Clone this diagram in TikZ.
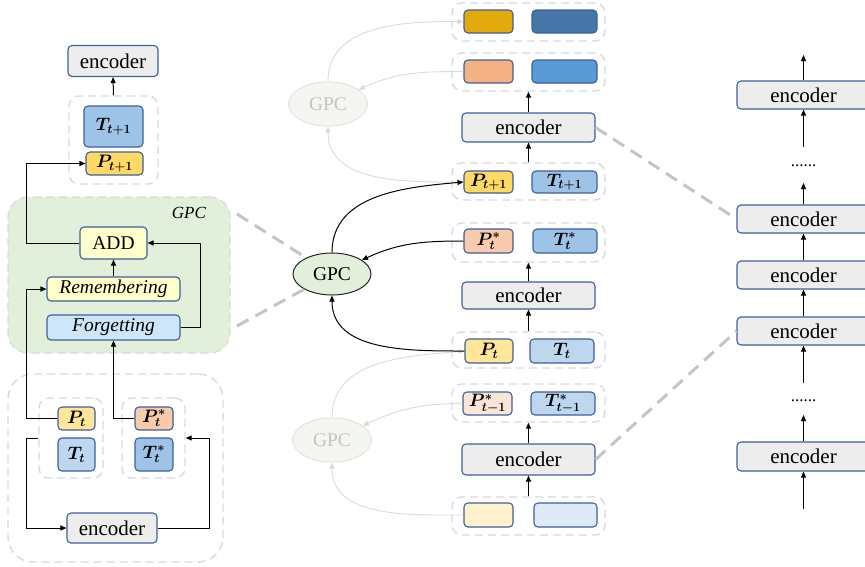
\documentclass[tikz,border=0pt]{standalone}
\usepackage{fix-cm}
\usepackage{bm}
\usepackage{fontspec}
\setmainfont{Liberation Serif}
\usetikzlibrary{arrows.meta,shapes.geometric,calc}
\definecolor{bc}{HTML}{3E5F9A}
\definecolor{encf}{HTML}{EDEDED}
\definecolor{gc}{HTML}{D3D9E5}
\definecolor{greenf}{HTML}{E2EFDA}
\definecolor{greend}{HTML}{D5DCCF}
\definecolor{fadec}{HTML}{DADADA}
\definecolor{fadet}{HTML}{C4C4C4}
\definecolor{fadeg}{HTML}{F4F6F1}
\definecolor{fadegd}{HTML}{E1E4DD}
\definecolor{dgray}{HTML}{C4C4C4}
\definecolor{yelA}{HTML}{FFD966}
\definecolor{yelB}{HTML}{FFE699}
\definecolor{yelC}{HTML}{FFF2CC}
\definecolor{addf}{HTML}{FFFFCC}
\definecolor{forgf}{HTML}{CFE6F9}
\definecolor{blA}{HTML}{9DC3E6}
\definecolor{blB}{HTML}{BDD7EE}
\definecolor{blC}{HTML}{DEEBF7}
\definecolor{blD}{HTML}{5B9BD5}
\definecolor{blE}{HTML}{4676A8}
\definecolor{orA}{HTML}{F8CBAD}
\definecolor{orB}{HTML}{FBE5D6}
\definecolor{orC}{HTML}{F4B183}
\definecolor{goldA}{HTML}{E3AA0B}
\newcommand{\fsE}{\fontsize{21}{25}\selectfont}
\newcommand{\fsT}{\fontsize{19.5}{23}\selectfont}
\newcommand{\fsM}{\fontsize{18}{22}\selectfont}
\newcommand{\fsD}{\fontsize{17}{20}\selectfont}
\tikzset{
  bx/.style={draw=bc, line width=1.1pt, rounded corners=4pt, inner sep=0pt, align=center},
  enc/.style={bx, fill=encf, font=\fsE, minimum width=133pt, minimum height=29pt},
  encs/.style={bx, fill=encf, font=\fsE, minimum width=90pt, minimum height=31pt},
  lab/.style={bx, font=\fsM},
  grp/.style={draw=gc, line width=1.4pt, dash pattern=on 8pt off 5pt, rounded corners=10pt, inner sep=0pt},
  arr/.style={-{Triangle[length=6pt,width=5pt]}, line width=1pt, draw=black},
  farr/.style={-{Triangle[length=6pt,width=5pt]}, line width=0.9pt, draw=fadec},
  gpcn/.style={ellipse, draw=black!85, line width=1pt, fill=greenf, minimum width=78pt, minimum height=42pt, inner sep=0pt, font=\fsT},
  gpcf/.style={ellipse, draw=fadegd, line width=1pt, fill=fadeg, text=fadet, minimum width=79pt, minimum height=44pt, inner sep=0pt, font=\fsT},
  gdash/.style={draw=dgray, line width=3pt, dash pattern=on 13pt off 8pt}
}
\begin{document}
\begin{tikzpicture}[x=1pt,y=-1pt]
\useasboundingbox (0,0) rectangle (865,566);
\clip (0,0) rectangle (865,566);

% ---------------- left panel ----------------
\node[draw=greend, fill=greenf, line width=1.2pt, dash pattern=on 8pt off 5pt, rounded corners=20pt, minimum width=222pt, minimum height=156pt, inner sep=0pt] (gpcreg) at (119,275) {};
\node[font=\fsD] (gpclab) at (189,213) {\textit{GPC}};
\node[grp] (grpL1) at (113.5,140) [minimum width=89pt, minimum height=88pt] {};
\node[grp, rounded corners=25pt, minimum width=215pt, minimum height=188pt] (grpBig) at (115.5,468) {};
\node[grp, minimum width=64pt, minimum height=80pt] (grp2a) at (71,438) {};
\node[grp, minimum width=63pt, minimum height=80pt] (grp2b) at (153.5,438) {};

\node[encs] (encL1) at (113,61) {encoder};
\node[lab, fill=blA, minimum width=59pt, minimum height=41pt] (TL1) at (113.5,126.5) {$\bm{T_{t+1}}$};
\node[lab, fill=yelA, minimum width=57pt, minimum height=23pt] (PL1) at (114.5,163.5) {$\bm{P_{t+1}}$};
\node[bx, fill=addf, font=\fsT, minimum width=67pt, minimum height=32pt] (ADD) at (113.5,243) {ADD};
\node[bx, fill=addf, font=\fsT, minimum width=133pt, minimum height=24pt] (Rem) at (113.5,289) {\textit{Remembering}};
\node[bx, fill=forgf, font=\fsT, minimum width=133pt, minimum height=25pt] (Forg) at (113.5,327.5) {\textit{Forgetting}};
\node[lab, fill=yelB, minimum width=37pt, minimum height=23pt] (PtL) at (76.5,418.5) {$\bm{P_{t}}$};
\node[lab, fill=blB, minimum width=37pt, minimum height=33pt] (TtL) at (76.5,454.5) {$\bm{T_{t}}$};
\node[lab, fill=orA, minimum width=38pt, minimum height=23pt] (PsL) at (154,418.5) {$\bm{P^{*}_{t}}$};
\node[lab, fill=blA, minimum width=38pt, minimum height=33pt] (TsL) at (154,454.5) {$\bm{T^{*}_{t}}$};
\node[encs, minimum height=30pt] (encL2) at (112,528) {encoder};

\draw[arr] (grpL1.north) -- (encL1.south);
\draw[arr] (ADD.west) -- ++(-53,0) |- (PL1.west);
\draw[arr] (Rem.north) -- (ADD.south);
\draw[arr] (Forg.east) -- ++(20,0) |- (ADD.east);
\draw[arr] (PtL.west) -- ++(-31,0) |- (Rem.west);
\draw[arr] (PsL.west) -| (Forg.south);
\draw[arr] (grp2a.west) -- ++(-12,0) |- (encL2.west);
\draw[arr] (encL2.east) -- ++(52,0) |- (grp2b.east);

% ---------------- middle column ----------------
\node[grp, minimum width=153pt, minimum height=38pt] (grpA) at (528.5,22) {};
\node[grp, minimum width=153pt, minimum height=38pt] (grpB) at (528.5,72) {};
\node[grp, minimum width=153pt, minimum height=37pt] (grpC) at (528.5,181.5) {};
\node[grp, minimum width=153pt, minimum height=39pt] (grpD) at (528.5,242.5) {};
\node[grp, minimum width=153pt, minimum height=36pt] (grpE) at (528.5,350) {};
\node[grp, minimum width=153pt, minimum height=38pt] (grpF) at (528.5,403) {};
\node[grp, minimum width=153pt, minimum height=38pt] (grpG) at (528.5,516) {};

\node[bx, fill=goldA, minimum width=49pt, minimum height=23pt] (A1) at (488.5,21.5) {};
\node[bx, fill=blE, minimum width=65pt, minimum height=23pt] (A2) at (564.5,21.5) {};
\node[bx, fill=orC, minimum width=49pt, minimum height=23pt] (B1) at (488.5,71.5) {};
\node[bx, fill=blD, minimum width=65pt, minimum height=23pt] (B2) at (564.5,71.5) {};
\node[enc] (encM1) at (528.5,127.5) {encoder};
\node[lab, fill=yelA, minimum width=49pt, minimum height=22pt] (PC) at (488.5,182) {$\bm{P_{t+1}}$};
\node[lab, fill=blA, minimum width=65pt, minimum height=22pt] (TC) at (564.5,182) {$\bm{T_{t+1}}$};
\node[lab, fill=orA, minimum width=49pt, minimum height=24pt] (PD) at (488.5,241) {$\bm{P^{*}_{t}}$};
\node[lab, fill=blA, minimum width=64pt, minimum height=24pt] (TD) at (565,241) {$\bm{T^{*}_{t}}$};
\node[enc, minimum height=27pt] (encM2) at (528.5,295.5) {encoder};
\node[lab, fill=yelB, minimum width=48pt, minimum height=24pt] (PE) at (489,351) {$\bm{P_{t}}$};
\node[lab, fill=blB, minimum width=64pt, minimum height=24pt] (TE) at (562,351) {$\bm{T_{t}}$};
\node[lab, fill=orB, minimum width=49pt, minimum height=23pt] (PF) at (487.5,403.5) {$\bm{P^{*}_{t-1}}$};
\node[lab, fill=blB, minimum width=64pt, minimum height=23pt] (TF) at (563,403.5) {$\bm{T^{*}_{t-1}}$};
\node[enc, minimum height=31pt] (encM3) at (528.5,459.5) {encoder};
\node[bx, fill=yelC, minimum width=49pt, minimum height=24pt] (G1) at (488.5,515) {};
\node[bx, fill=blC, minimum width=63pt, minimum height=24pt] (G2) at (565.5,515) {};

\draw[arr] (encM1.north) -- (grpB.south);
\draw[arr] (grpC.north) -- (encM1.south);
\draw[arr] (encM2.north) -- (grpD.south);
\draw[arr] (grpE.north) -- (encM2.south);
\draw[arr] (encM3.north) -- (grpF.south);
\draw[arr] (grpG.north) -- (encM3.south);

% GPC ellipses
\node[gpcf] (gpcA) at (328,104) {GPC};
\node[gpcn] (gpcB) at (332,274) {GPC};
\node[gpcf] (gpcC) at (332,440) {GPC};

% faded curves
\draw[farr] (B1.west) to[out=180,in=25] (gpcA.25);
\draw[farr] (PC.west) to[out=180,in=270] (gpcA.south);
\draw[farr] (gpcA.north) to[out=90,in=180] (A1.west);
\draw[farr] (PF.west) to[out=180,in=25] (gpcC.25);
\draw[farr] (G1.west) to[out=180,in=270] (gpcC.south);
\draw[farr] (gpcC.north) to[out=90,in=185] (PE.west);

% black curves
\draw[arr] (PD.west) to[out=180,in=25] (gpcB.25);
\draw[arr] (PE.west) to[out=180,in=270] (gpcB.south);
\draw[arr] (gpcB.north) to[out=90,in=185] (PC.west);

% ---------------- right column ----------------
\node[enc, minimum height=28pt] (encR1) at (803.5,95) {encoder};
\node[enc, minimum height=28pt] (encR2) at (803.5,219) {encoder};
\node[enc, minimum height=28pt] (encR3) at (803.5,275) {encoder};
\node[enc, minimum height=28pt] (encR4) at (803.5,331) {encoder};
\node[enc, minimum height=29pt] (encR5) at (803.5,456.5) {encoder};
\node[font=\fsD] (dots1) at (803.5,166) {......};
\node[font=\fsD] (dots2) at (803.5,401) {......};
\coordinate (rTop) at (803.5,55);
\coordinate (rA) at (803.5,147);
\coordinate (rB) at (803.5,183);
\coordinate (rC) at (803.5,383);
\coordinate (rD) at (803.5,415);
\coordinate (rE) at (803.5,509);
\draw[arr] (encR1.north) -- (rTop);
\draw[arr] (rA) -- (encR1.south);
\draw[arr] (encR2.north) -- (rB);
\draw[arr] (encR3.north) -- (encR2.south);
\draw[arr] (encR4.north) -- (encR3.south);
\draw[arr] (rC) -- (encR4.south);
\draw[arr] (encR5.north) -- (rD);
\draw[arr] (rE) -- (encR5.south);

% gray dashed links
\coordinate (dl1) at (237,214);
\coordinate (dl2) at (237,326);
\draw[gdash] (dl1) -- (gpcB);
\draw[gdash] (dl2) -- (gpcB);
\draw[gdash] (encM1.east) -- (encR2.west);
\draw[gdash] (encM3.east) -- (encR4.west);
\end{tikzpicture}
\end{document}
